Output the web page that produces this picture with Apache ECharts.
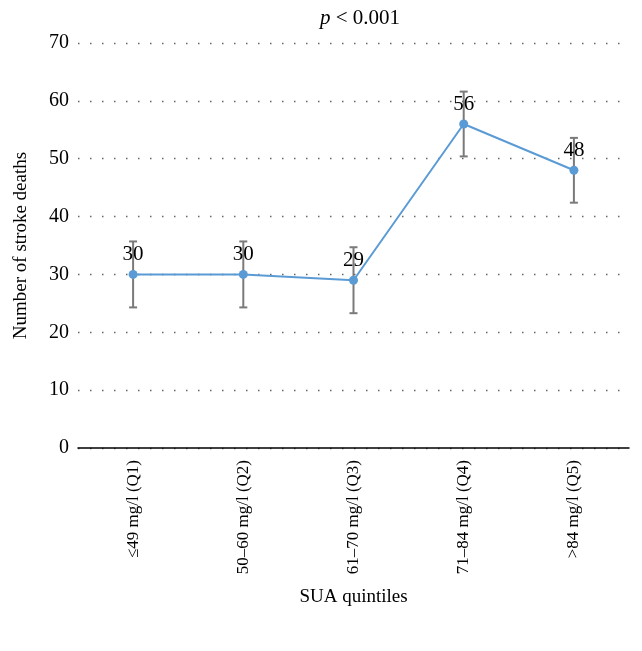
<!DOCTYPE html>
<html>
<head>
<meta charset="utf-8">
<script src="https://cdn.jsdelivr.net/npm/echarts@6/dist/echarts.min.js"></script>
<style>html,body{margin:0;padding:0;background:#fff;}#c{width:642px;height:651px;}</style>
</head>
<body>
<div id="c"></div>
<script>
const categories = ['≤49 mg/l (Q1)', '50–60 mg/l (Q2)', '61–70 mg/l (Q3)', '71–84 mg/l (Q4)', '>84 mg/l (Q5)'];
const deaths = [30, 30, 29, 56, 48];
const errLow = [24.3, 24.3, 23.3, 50.4, 42.4];
const errHigh = [35.7, 35.7, 34.7, 61.6, 53.6];
const yTicks = [0, 10, 20, 30, 40, 50, 60, 70];

const FONT = '"Liberation Serif", "Times New Roman", serif';
const chart = echarts.init(document.getElementById('c'));
const errData = categories.map((c, i) => [i, errLow[i], errHigh[i]]);

chart.setOption({
  animation: false,
  title: {
    text: '{i|p} < 0.001',
    left: 355, top: 3, textAlign: 'center',
    textStyle: {
      fontFamily: FONT, fontSize: 21, fontWeight: 'normal', color: '#000',
      rich: { i: { fontFamily: FONT, fontSize: 21, fontStyle: 'italic', color: '#000' } }
    }
  },
  grid: { left: 78, right: 13, top: 43, bottom: 203, containLabel: false },
  xAxis: {
    type: 'category',
    data: categories,
    boundaryGap: true,
    name: 'SUA quintiles',
    nameLocation: 'middle',
    nameGap: 140,
    nameTextStyle: { fontFamily: FONT, fontSize: 19, color: '#000' },
    axisLine: { lineStyle: { color: '#000', width: 1.5 } },
    axisTick: { show: false },
    axisLabel: { rotate: 90, margin: 12, fontFamily: FONT, fontSize: 17, color: '#000' }
  },
  yAxis: {
    type: 'value',
    min: yTicks[0], max: yTicks[yTicks.length - 1], interval: 10,
    name: 'Number of stroke deaths',
    nameLocation: 'middle',
    nameGap: 47,
    nameTextStyle: { fontFamily: FONT, fontSize: 19, color: '#000' },
    axisLine: { show: false },
    axisTick: { show: false },
    axisLabel: { margin: 9, fontFamily: FONT, fontSize: 20, color: '#000' },
    splitLine: { show: true, lineStyle: { color: '#666', width: 1.3, type: [1.5, 10.5] } }
  },
  series: [
    {
      type: 'custom',
      z: 1,
      data: errData,
      renderItem: function (params, api) {
        const x = api.value(0);
        const lo = api.coord([x, api.value(1)]);
        const hi = api.coord([x, api.value(2)]);
        const cw = 4;
        const style = { stroke: '#7a7a7a', lineWidth: 2 };
        return {
          type: 'group',
          children: [
            { type: 'line', shape: { x1: lo[0], y1: lo[1], x2: hi[0], y2: hi[1] }, style: style },
            { type: 'line', shape: { x1: lo[0] - cw, y1: lo[1], x2: lo[0] + cw, y2: lo[1] }, style: style },
            { type: 'line', shape: { x1: hi[0] - cw, y1: hi[1], x2: hi[0] + cw, y2: hi[1] }, style: style }
          ]
        };
      }
    },
    {
      type: 'line',
      z: 3,
      data: deaths,
      symbol: 'circle',
      symbolSize: 9,
      lineStyle: { color: '#5b9bd5', width: 2 },
      itemStyle: { color: '#5b9bd5' },
      label: {
        show: true, position: 'top', distance: 5,
        fontFamily: FONT, fontSize: 21, color: '#000'
      }
    }
  ]
});
</script>
</body>
</html>
